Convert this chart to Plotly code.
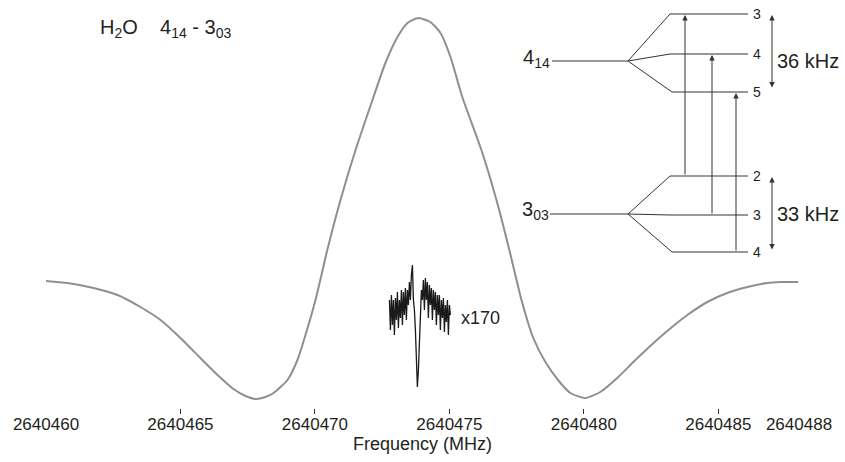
import plotly.graph_objects as go

# ---------------- data ----------------
gray_freq = [2640460.00, 2640460.80, 2640461.77, 2640462.66, 2640463.51, 2640464.26, 2640465.00,
             2640465.74, 2640466.38, 2640466.97, 2640467.42, 2640467.79, 2640468.16, 2640468.46,
             2640468.98, 2640469.35, 2640469.57, 2640470.02, 2640470.46, 2640470.95, 2640471.51,
             2640472.14, 2640472.62, 2640473.07, 2640473.44, 2640473.85, 2640474.29, 2640474.67,
             2640475.04, 2640475.48, 2640476.19, 2640476.75, 2640477.23, 2640477.68, 2640478.12,
             2640478.57, 2640479.13, 2640479.50, 2640480.05, 2640480.61, 2640481.24, 2640481.84,
             2640482.47, 2640483.10, 2640483.85, 2640484.59, 2640485.33, 2640486.08, 2640486.82,
             2640487.30, 2640487.97]
gray_int = [117, 115, 110, 103, 91, 78, 60,
            40, 23, 9, 2, -1, 1, 5,
            18, 38, 56, 98, 148, 198, 248,
            298, 335, 361, 375, 380, 376, 365,
            341, 301, 248, 198, 148, 98, 60,
            36, 15, 5, 0, 6, 20, 36,
            52, 67, 83, 96, 105, 111, 115,
            116, 116]

x170_freq = [2640472.770, 2640472.807, 2640472.844, 2640472.881, 2640472.918, 2640472.955,
             2640472.993, 2640473.030, 2640473.067, 2640473.104, 2640473.141, 2640473.178,
             2640473.216, 2640473.253, 2640473.290, 2640473.327, 2640473.364, 2640473.401,
             2640473.439, 2640473.476, 2640473.513, 2640473.550, 2640473.587, 2640473.625,
             2640473.662, 2640473.699, 2640473.736, 2640473.773, 2640473.810, 2640473.848,
             2640473.885, 2640473.922, 2640473.959, 2640473.996, 2640474.033, 2640474.071,
             2640474.108, 2640474.145, 2640474.182, 2640474.219, 2640474.257, 2640474.294,
             2640474.331, 2640474.368, 2640474.405, 2640474.442, 2640474.480, 2640474.517,
             2640474.554, 2640474.591, 2640474.628, 2640474.665, 2640474.703, 2640474.740,
             2640474.777, 2640474.814, 2640474.851, 2640474.888, 2640474.926, 2640474.963,
             2640475.000, 2640475.037]
x170_int = [98, 68, 103, 73, 98, 63,
            100, 78, 106, 70, 98, 80,
            108, 73, 106, 83, 110, 78,
            108, 93, 116, 98, 123, 133,
            98, 88, 68, 38, 11, 28,
            53, 78, 108, 98, 118, 88,
            120, 98, 116, 80, 113, 93,
            110, 78, 108, 88, 106, 73,
            103, 83, 103, 68, 98, 80,
            100, 66, 93, 76, 98, 63,
            93, 83]

tick_values = [2640460, 2640465, 2640470, 2640475, 2640480, 2640485, 2640488]
tick_labels = ["2640460", "2640465", "2640470", "2640475", "2640480", "2640485", "2640488"]
tick_mark_values = [2640465, 2640470, 2640475, 2640480, 2640485]

upper_F = ["3", "4", "5"]
lower_F = ["2", "3", "4"]
upper_split = "36 kHz"
lower_split = "33 kHz"

# ---------------- layout helpers ----------------
W, H = 845, 462
L, R, T, B = 46, 46, 0, 54
PW, PH = W - L - R, H - T - B
FONT = "Liberation Sans, Arial, Helvetica, sans-serif"
TXT = "#231f20"
LN = "#333333"


def px(x):
    return (x - L) / PW


def py(y):
    return (H - B - y) / PH


fig = go.Figure()
fig.add_trace(go.Scatter(x=gray_freq, y=gray_int, mode="lines",
                         line=dict(color="#8f8f8f", width=2, shape="spline", smoothing=0.6),
                         hoverinfo="skip", showlegend=False))
fig.add_trace(go.Scatter(x=x170_freq, y=x170_int, mode="lines", xaxis="x2",
                         line=dict(color="#1a1a1a", width=1.3),
                         hoverinfo="skip", showlegend=False))

shapes = []


def seg(x0, y0, x1, y1):
    shapes.append(dict(type="line", xref="paper", yref="paper",
                       x0=px(x0), y0=py(y0), x1=px(x1), y1=py(y1),
                       line=dict(color=LN, width=1)))


# upper level 4_14
seg(552, 61, 628, 61)
seg(628, 61, 670, 14); seg(670, 14, 748, 14)
seg(628, 61, 670, 54); seg(670, 54, 748, 54)
seg(628, 61, 672, 92); seg(672, 92, 748, 92)
# lower level 3_03
seg(550, 214, 628, 214)
seg(628, 214, 670, 176); seg(670, 176, 748, 176)
seg(628, 214, 670, 215); seg(670, 215, 748, 215)
seg(628, 214, 672, 252); seg(672, 252, 748, 252)

annotations = []


def arrow(x, y_tail, y_head, both=False):
    annotations.append(dict(xref="paper", yref="paper", x=px(x), y=py(y_head),
                            ax=0, ay=y_tail - y_head, text="", showarrow=True,
                            arrowhead=2, arrowsize=1.1, arrowwidth=1, arrowcolor=LN,
                            arrowside="end+start" if both else "end",
                            startarrowhead=2, startarrowsize=1.1))


arrow(685, 176, 15)
arrow(712, 215, 55)
arrow(736, 252, 93)
arrow(772, 89, 15, both=True)
arrow(772, 251, 177, both=True)


def text(x, y, s, size, xanchor="center", yanchor="middle"):
    annotations.append(dict(xref="paper", yref="paper", x=px(x), y=py(y), text=s,
                            showarrow=False, xanchor=xanchor, yanchor=yanchor,
                            font=dict(family=FONT, size=size, color=TXT)))


for lab, yy in zip(upper_F, [14, 54, 92]):
    text(757, yy, lab, 14)
for lab, yy in zip(lower_F, [176, 215, 252]):
    text(757, yy, lab, 14)
text(775, 61, upper_split, 20, xanchor="left")
text(775, 214, lower_split, 20, xanchor="left")
text(552, 58, "4<sub>14</sub>", 20, xanchor="right")
text(551, 211, "3<sub>03</sub>", 20, xanchor="right")
text(98, 29, "H<sub>2</sub>O&nbsp;&nbsp;&nbsp; 4<sub>14</sub> - 3<sub>03</sub>", 20, xanchor="left")
text(459, 318, "x170", 18, xanchor="left")

xr = [2640460, 2640488]
fig.update_layout(
    width=W, height=H, template="none",
    margin=dict(l=L, r=R, t=T, b=B, pad=0),
    paper_bgcolor="white", plot_bgcolor="white",
    showlegend=False,
    xaxis=dict(range=xr, tickvals=tick_values, ticktext=tick_labels,
               ticks="outside", ticklen=1, tickcolor="rgba(0,0,0,0)",
               showline=False, showgrid=False, zeroline=False, automargin=False,
               tickfont=dict(family=FONT, size=17, color=TXT),
               title=dict(text="Frequency (MHz)", standoff=2,
                          font=dict(family=FONT, size=18, color=TXT))),
    xaxis2=dict(range=xr, overlaying="x", anchor="y", side="bottom",
                tickvals=tick_mark_values, showticklabels=False,
                ticks="outside", ticklen=5, tickwidth=1, tickcolor=LN,
                showline=False, showgrid=False, zeroline=False, automargin=False),
    yaxis=dict(range=[-10, 398], visible=False, showgrid=False, zeroline=False,
               automargin=False),
    shapes=shapes, annotations=annotations,
)

fig.write_html("out.html", config={"displayModeBar": False, "staticPlot": True},
               post_script="document.body.style.margin='0';document.body.style.overflow='hidden';")
